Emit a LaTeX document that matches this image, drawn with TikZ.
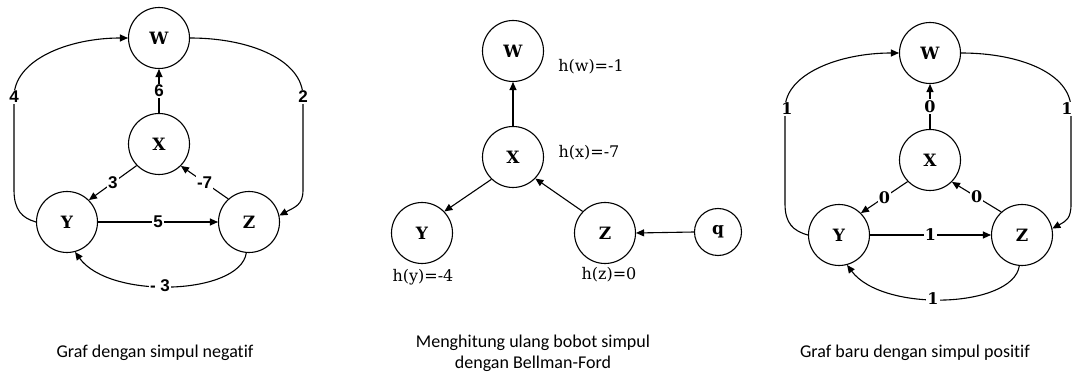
\documentclass[tikz,border=0pt]{standalone}
\usepackage{fontspec}
\usetikzlibrary{arrows.meta}
\newfontfamily\vfont{DejaVu Serif}
\newfontfamily\capfont[Ligatures=NoCommon]{Carlito}
\newfontfamily\numfont{Liberation Sans}
\begin{document}
\begin{tikzpicture}[x=1pt,y=-1pt,
  vtx/.style={draw,circle,line width=1.1pt,minimum size=61pt,inner sep=0pt,font=\vfont\bfseries\fontsize{17}{20}\selectfont},
  qvtx/.style={vtx,minimum size=47pt},
  edge/.style={line width=1.1pt,-{Triangle[length=8pt,width=7pt]}},
  lblL/.style={fill=white,inner sep=1.2pt,font=\numfont\bfseries\fontsize{17}{19}\selectfont},
  lblR/.style={fill=white,inner sep=1.2pt,font=\vfont\bfseries\fontsize{16}{19}\selectfont},
  hlab/.style={font=\vfont\fontsize{16}{19}\selectfont},
  captxt/.style={font=\capfont\fontsize{18}{21}\selectfont,align=center}]
\useasboundingbox (0,0) rectangle (1073,379);
\clip (0,0) rectangle (1073,379);

% ---------- left graph ----------
\node[vtx] (W1) at (159,38) {W};
\node[vtx] (X1) at (159,144) {X};
\node[vtx] (Y1) at (67,222) {Y};
\node[vtx] (Z1) at (249,222) {Z};
\draw[edge] (X1.north) -- node[lblL]{6} (W1.south);
\draw[edge] (X1.224) -- node[lblL]{3} (Y1.45);
\draw[edge] (Z1.132) -- node[lblL]{-7} (X1.-45);
\draw[edge] (Y1.east) -- node[lblL]{5} (Z1.west);
\draw[edge] (Y1.west) .. controls (22,218) and (14,210) .. (14,190)
  -- (14,97) node[lblL]{4} .. controls (14,60) and (68,38) .. (W1.west);
\draw[edge] (W1.east) .. controls (250,38) and (303,60) .. (303,97) node[lblL]{2}
  -- (303,190) .. controls (303,205) and (295,207) .. (Z1.12);
\draw[edge] (Z1.-95) .. controls (240,295) and (110,300) .. node[lblL,pos=0.55]{- 3} (Y1.-75);

% ---------- middle graph ----------
\node[vtx] (W2) at (513,51) {W};
\node[vtx] (X2) at (513,157) {X};
\node[vtx] (Y2) at (422,233) {Y};
\node[vtx] (Z2) at (605,233) {Z};
\node[qvtx] (Q2) at (718,232) {q};
\draw[edge] (X2.north) -- (W2.south);
\draw[edge] (X2.226) -- (Y2.44);
\draw[edge] (Z2.136) -- (X2.-44);
\draw[edge] (Q2.west) -- (Z2.east);
\node[hlab] (hw) at (591,67) {h(w)=-1};
\node[hlab] (hx) at (589,153) {h(x)=-7};
\node[hlab] (hy) at (423,277) {h(y)=-4};
\node[hlab] (hz) at (609,275) {h(z)=0};

% ---------- right graph ----------
\begin{scope}[shift={(771,14)}]
\node[vtx] (W3) at (159,39) {W};
\node[vtx] (X3) at (159,146) {X};
\node[vtx] (Y3) at (68,221) {Y};
\node[vtx] (Z3) at (251,221) {Z};
\draw[edge] (X3.north) -- node[lblR]{0} (W3.south);
\draw[edge] (X3.224) -- node[lblR]{0} (Y3.45);
\draw[edge] (Z3.132) -- node[lblR]{0} (X3.-45);
\draw[edge] (Y3.east) -- node[lblR]{1} (Z3.west);
\draw[edge] (Y3.west) .. controls (22,217) and (14,209) .. (14,190)
  -- (14,95) node[lblR,xshift=2pt]{1} .. controls (14,60) and (68,39) .. (W3.west);
\draw[edge] (W3.east) .. controls (250,39) and (300,60) .. (300,95) node[lblR,xshift=-4pt]{1}
  -- (300,190) .. controls (300,205) and (295,207) .. (Z3.12);
\draw[edge] (Z3.-95) .. controls (242,294) and (112,299) .. node[lblR,pos=0.55]{1} (Y3.-75);
\end{scope}

% ---------- captions ----------
\node[captxt] (c1) at (155,353) {Graf dengan simpul negatif};
\node[captxt] (c2) at (533,353) {Menghitung ulang bobot simpul\\dengan Bellman-Ford};
\node[captxt] (c3) at (915,353) {Graf baru dengan simpul positif};
\end{tikzpicture}
\end{document}
